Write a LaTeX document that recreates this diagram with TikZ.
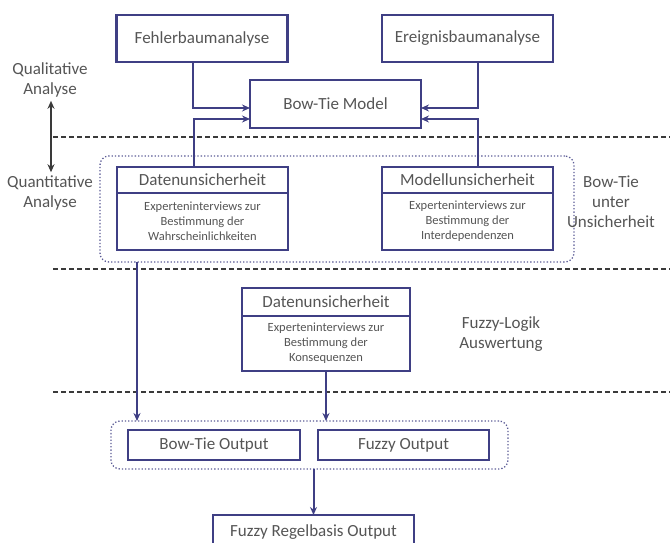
\documentclass[tikz,border=0pt]{standalone}
\usepackage{fontspec}
\setmainfont{Carlito}
\usetikzlibrary{arrows.meta,positioning}

\definecolor{boxblue}{HTML}{3F3F84}
\definecolor{labelgray}{HTML}{555555}
\definecolor{sepgray}{HTML}{3A3A3A}

\tikzset{
    stage/.style={draw=boxblue, line width=2.3pt, text=labelgray,
        inner sep=0pt, outer sep=0pt, minimum width=171pt, minimum height=47pt,
        font=\fontsize{17}{20}\selectfont},
    head/.style={stage, minimum height=26pt},
    detail/.style={stage, minimum height=57pt, align=center,
        font=\fontsize{12.5}{15}\selectfont},
    group/.style={draw=boxblue!85, dotted, line width=1.3pt,
        rounded corners=9pt, inner sep=0pt, outer sep=0pt},
    flow/.style={draw=boxblue, line width=2pt,
        -{Stealth[length=8pt,width=7pt]}},
    sep/.style={draw=sepgray, line width=1.5pt, dash pattern=on 5pt off 3pt},
    side/.style={text=labelgray, align=center,
        font=\fontsize{17}{20}\selectfont},
}

\begin{document}
\begin{tikzpicture}[x=1pt, y=-1pt]
    \path [use as bounding box, clip]
        (0,0) rectangle (670,542)
        ;

    % layer separators
    \foreach \y in {137,269,392}
        \draw [sep] (53,\y) -- (670,\y);

    % dotted groups
    \node [group, minimum width=474pt, minimum height=106pt]
        (group1) at (337,209) {};
    \node [group, minimum width=397pt, minimum height=48pt]
        (group2) at (309.5,445) {};

    % qualitative part
    \node [stage] (fehler) at (202,38.5) {Fehlerbaumanalyse};
    \node [stage] (ereignis) at (467.5,38.5) {Ereignisbaumanalyse};
    \node [stage, minimum height=48pt] (bowtie) at (335.5,104) {Bow-Tie Model};

    % bow-tie under uncertainty
    \node [head] (daten1) at (202.5,180) {Datenunsicherheit};
    \node [detail, below=0pt of daten1] (daten1 detail)
        {Experteninterviews zur\\Bestimmung der\\Wahrscheinlichkeiten};
    \node [head] (modell) at (467.5,180) {Modellunsicherheit};
    \node [detail, below=0pt of modell] (modell detail)
        {Experteninterviews zur\\Bestimmung der\\Interdependenzen};

    % fuzzy logic
    \node [head, minimum width=168pt, minimum height=28pt]
        (daten3) at (326,302) {Datenunsicherheit};
    \node [detail, minimum width=168pt, minimum height=55pt,
        below=0pt of daten3] (daten3 detail)
        {Experteninterviews zur\\Bestimmung der\\Konsequenzen};

    % outputs
    \node [stage, minimum width=172pt, minimum height=30pt]
        (bt out) at (214,445) {Bow-Tie Output};
    \node [stage, minimum height=30pt]
        (fuzzy out) at (403.5,445) {Fuzzy Output};
    \node [stage, minimum width=201pt, minimum height=34pt]
        (regel) at (313.5,532) {Fuzzy Regelbasis Output};

    % side labels
    \node [side] (qual) at (50,80) {Qualitative\\Analyse};
    \node [side] (quant) at (50,193) {Quantitative\\Analyse};
    \node [side] (unsicher) at (611,202) {Bow-Tie\\unter\\Unsicherheit};
    \node [side] (fuzzylogik) at (501,334) {Fuzzy-Logik\\Auswertung};

    \draw [draw=sepgray, line width=2pt,
        {Stealth[length=8pt,width=7pt]}-{Stealth[length=8pt,width=7pt]}]
        ([xshift=1pt]qual.south) -- ([xshift=1pt]quant.north)
        ;

    % connectors
    \coordinate (bt tap) at (137,0);
    \draw [flow]
        ([xshift=-9pt]fehler.south) |- ([yshift=-4pt]bowtie.west)
        ;
    \draw [flow]
        ([xshift=-9pt]daten1.north) |- ([yshift=-15pt]bowtie.west)
        ;
    \draw [flow]
        ([xshift=10pt]ereignis.south) |- ([yshift=-4pt]bowtie.east)
        ;
    \draw [flow]
        ([xshift=10pt]modell.north) |- ([yshift=-15pt]bowtie.east)
        ;
    \draw [flow]
        (group1.south -| bt tap) -- (group2.north -| bt tap)
        ;
    \draw [flow]
        (daten3 detail.south) -- (daten3 detail.south |- group2.north)
        ;
    \draw [flow]
        (group2.south -| regel.north) -- (regel.north)
        ;
\end{tikzpicture}
\end{document}
